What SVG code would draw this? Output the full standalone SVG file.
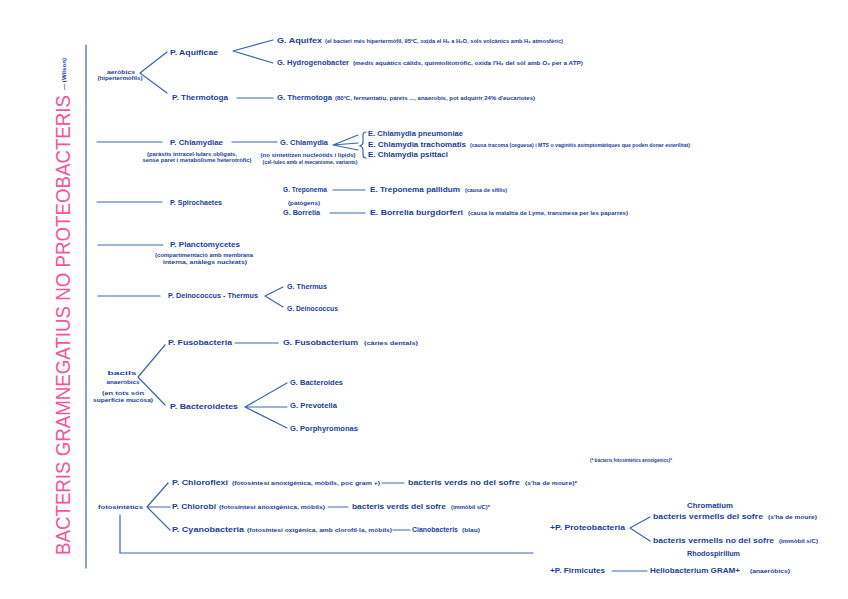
<svg xmlns="http://www.w3.org/2000/svg" width="848" height="599" viewBox="0 0 848 599">
<style>
.t{font-family:"Liberation Sans",Arial,sans-serif;font-weight:bold;fill:#1c3d9c;font-size:7.5px}
.n{font-family:"Liberation Sans",Arial,sans-serif;font-weight:bold;fill:#1c3d9c;font-size:5px}
.c{fill:none;stroke:#3a66ae;stroke-width:1.2;stroke-linecap:round}
.title{font-family:"Liberation Sans",Arial,sans-serif;fill:#f2559a;font-size:21px}
</style>
<rect width="848" height="599" fill="#ffffff"/>
<g id="title">
<text class="title" transform="translate(70,325) rotate(-90)" text-anchor="middle" textLength="460" lengthAdjust="spacingAndGlyphs">BACTERIS GRAMNEGATIUS NO PROTEOBACTERIS</text>
<text class="n" transform="translate(66,90) rotate(-90)" textLength="32" lengthAdjust="spacingAndGlyphs" style="fill:#1c3d9c">— (Wilson)</text>
</g>
<g id="connectors">
<path class="c" d="M86,45 L86,568"/>
<path class="c" d="M140,73 L167,52 M140,73 L167,93"/>
<path class="c" d="M233,51 L273,40 M233,51 L273,63"/>
<path class="c" d="M237,98 L273,98"/>
<path class="c" d="M97,142 L162,142 M232,142 L277,142"/>
<path class="c" d="M333,145 L358,135 M333,145 L358,143 M333,145 L358,150"/>
<path class="c" d="M366,132 q-3,0 -3,3 v7 q0,3 -3,4 q3,1 3,4 v5 q0,3 3,3"/>
<path class="c" d="M97,202 L162,202"/>
<path class="c" d="M333,190 L365,190 M330,213 L365,213"/>
<path class="c" d="M98,245 L163,245"/>
<path class="c" d="M98,296 L160,296"/>
<path class="c" d="M265,296 L283,287 M265,296 L283,307"/>
<path class="c" d="M138,377 L165,345 M138,377 L165,405"/>
<path class="c" d="M235,343 L278,343"/>
<path class="c" d="M245,407 L287,383 M245,407 L287,407 M245,407 L287,428"/>
<path class="c" d="M147,507 L168,483 M147,507 L170,507 M147,507 L170,530"/>
<path class="c" d="M382,483 L404,483 M328,507 L348,507 M393,530 L410,530"/>
<path class="c" d="M120,515 L120,553 L533,553"/>
<path class="c" d="M630,528 L650,517 M630,528 L650,541"/>
<path class="c" d="M612,571 L647,571"/>
</g>
<g id="aerobics">
<text class="t" x="121" y="74" text-anchor="middle" textLength="28" lengthAdjust="spacingAndGlyphs" style="font-size:6px">aeròbics</text>
<text class="n" x="120" y="80" text-anchor="middle" textLength="45" lengthAdjust="spacingAndGlyphs">(hipertermòfils)</text>
</g>
<g id="aquificae"><text class="t" x="170" y="55" textLength="48" lengthAdjust="spacingAndGlyphs">P. Aquificae</text></g>
<g id="aquifex">
<text class="t" x="277" y="43" textLength="45" lengthAdjust="spacingAndGlyphs">G. Aquifex</text>
<text class="n" x="325" y="43" textLength="238" lengthAdjust="spacingAndGlyphs">(el bacteri més hipertermòfil, 95ºC, oxida el H₂ a H₂O, sols volcànics amb H₂ atmosfèric)</text>
</g>
<g id="hydrogenobacter">
<text class="t" x="277" y="65" textLength="72" lengthAdjust="spacingAndGlyphs">G. Hydrogenobacter</text>
<text class="n" x="353" y="65" textLength="230" lengthAdjust="spacingAndGlyphs">(medis aquàtics càlids, quimiolitotròfic, oxida l'H₂ del sòl amb O₂ per a ATP)</text>
</g>
<g id="thermotoga-p"><text class="t" x="172" y="100" textLength="56" lengthAdjust="spacingAndGlyphs">P. Thermotoga</text></g>
<g id="thermotoga-g">
<text class="t" x="277" y="100" textLength="55" lengthAdjust="spacingAndGlyphs">G. Thermotoga</text>
<text class="n" x="335" y="100" textLength="200" lengthAdjust="spacingAndGlyphs">(80ºC, fermentatiu, parets ..., anaerobis, pot adquirir 24% d'eucariotes)</text>
</g>
<g id="chlamydiae">
<text class="t" x="170" y="145" textLength="53" lengthAdjust="spacingAndGlyphs">P. Chlamydiae</text>
<text class="n" x="192" y="156" text-anchor="middle" textLength="90" lengthAdjust="spacingAndGlyphs">(paràsits intracel·lulars obligats,</text>
<text class="n" x="197" y="162" text-anchor="middle" textLength="109" lengthAdjust="spacingAndGlyphs">sense paret i metabolisme heterotròfic)</text>
</g>
<g id="chlamydia">
<text class="t" x="280" y="145" textLength="48" lengthAdjust="spacingAndGlyphs">G. Chlamydia</text>
<text class="n" x="308" y="157" text-anchor="middle" textLength="95" lengthAdjust="spacingAndGlyphs">(no sintetitzen nucleòtids i lípids)</text>
<text class="n" x="310" y="164" text-anchor="middle" textLength="95" lengthAdjust="spacingAndGlyphs">(cèl·lules amb el mecanisme, variants)</text>
</g>
<g id="pneumoniae"><text class="t" x="368" y="136" textLength="95" lengthAdjust="spacingAndGlyphs">E. Chlamydia pneumoniae</text></g>
<g id="trachomatis">
<text class="t" x="368" y="147" textLength="98" lengthAdjust="spacingAndGlyphs">E. Chlamydia trachomatis</text>
<text class="n" x="470" y="147" textLength="220" lengthAdjust="spacingAndGlyphs">(causa tracoma (ceguesa) i MTS o vaginitis asimptomàtiques que poden donar esterilitat)</text>
</g>
<g id="psittaci"><text class="t" x="368" y="157" textLength="80" lengthAdjust="spacingAndGlyphs">E. Chlamydia psittaci</text></g>
<g id="spirochaetes"><text class="t" x="170" y="205" textLength="52" lengthAdjust="spacingAndGlyphs">P. Spirochaetes</text></g>
<g id="treponema">
<text class="t" x="283" y="192" textLength="44" lengthAdjust="spacingAndGlyphs">G. Treponema</text>
<text class="n" x="304" y="205" text-anchor="middle" textLength="32" lengthAdjust="spacingAndGlyphs">(patògens)</text>
</g>
<g id="borrelia"><text class="t" x="283" y="215" textLength="37" lengthAdjust="spacingAndGlyphs">G. Borrelia</text></g>
<g id="pallidum">
<text class="t" x="370" y="192" textLength="90" lengthAdjust="spacingAndGlyphs">E. Treponema pallidum</text>
<text class="n" x="465" y="192" textLength="42" lengthAdjust="spacingAndGlyphs">(causa de sífilis)</text>
</g>
<g id="burgdorferi">
<text class="t" x="370" y="215" textLength="93" lengthAdjust="spacingAndGlyphs">E. Borrelia burgdorferi</text>
<text class="n" x="468" y="215" textLength="160" lengthAdjust="spacingAndGlyphs">(causa la malaltia de Lyme, transmesa per les paparres)</text>
</g>
<g id="planctomycetes">
<text class="t" x="170" y="247" textLength="70" lengthAdjust="spacingAndGlyphs">P. Planctomycetes</text>
<text class="n" x="204" y="257" text-anchor="middle" textLength="98" lengthAdjust="spacingAndGlyphs">(compartimentació amb membrana</text>
<text class="n" x="205" y="264" text-anchor="middle" textLength="84" lengthAdjust="spacingAndGlyphs">interna, anàlegs nucleats)</text>
</g>
<g id="deinococcus-thermus"><text class="t" x="168" y="298" textLength="90" lengthAdjust="spacingAndGlyphs">P. Deinococcus - Thermus</text></g>
<g id="thermus"><text class="t" x="287" y="289" textLength="40" lengthAdjust="spacingAndGlyphs">G. Thermus</text></g>
<g id="deinococcus"><text class="t" x="287" y="311" textLength="51" lengthAdjust="spacingAndGlyphs">G. Deinococcus</text></g>
<g id="bacils">
<text class="t" x="122" y="375" text-anchor="middle" textLength="29" lengthAdjust="spacingAndGlyphs" style="font-size:6px">bacils</text>
<text class="t" x="123" y="384" text-anchor="middle" textLength="33" lengthAdjust="spacingAndGlyphs" style="font-size:6px">anaeròbics</text>
<text class="n" x="123" y="395" text-anchor="middle" textLength="42" lengthAdjust="spacingAndGlyphs">(en tots són</text>
<text class="n" x="123" y="402" text-anchor="middle" textLength="60" lengthAdjust="spacingAndGlyphs">superfície mucosa)</text>
</g>
<g id="fusobacteria"><text class="t" x="168" y="345" textLength="64" lengthAdjust="spacingAndGlyphs">P. Fusobacteria</text></g>
<g id="fusobacterium">
<text class="t" x="283" y="345" textLength="75" lengthAdjust="spacingAndGlyphs">G. Fusobacterium</text>
<text class="n" x="364" y="345" textLength="54" lengthAdjust="spacingAndGlyphs">(càries dentals)</text>
</g>
<g id="bacteroidetes"><text class="t" x="170" y="409" textLength="68" lengthAdjust="spacingAndGlyphs">P. Bacteroidetes</text></g>
<g id="bacteroides"><text class="t" x="290" y="385" textLength="53" lengthAdjust="spacingAndGlyphs">G. Bacteroides</text></g>
<g id="prevotella"><text class="t" x="290" y="408" textLength="47" lengthAdjust="spacingAndGlyphs">G. Prevotella</text></g>
<g id="porphyromonas"><text class="t" x="290" y="431" textLength="68" lengthAdjust="spacingAndGlyphs">G. Porphyromonas</text></g>
<g id="fotosintetics"><text class="t" x="98" y="509" textLength="45" lengthAdjust="spacingAndGlyphs" style="font-size:6px">fotosintètics</text></g>
<g id="chloroflexi">
<text class="t" x="172" y="485" textLength="56" lengthAdjust="spacingAndGlyphs">P. Chloroflexi</text>
<text class="n" x="232" y="485" textLength="148" lengthAdjust="spacingAndGlyphs">(fotosíntesi anoxigènica, mòbils, poc gram +)</text>
</g>
<g id="verds-no-sofre">
<text class="t" x="408" y="485" textLength="112" lengthAdjust="spacingAndGlyphs">bacteris verds no del sofre</text>
<text class="n" x="525" y="485" textLength="52" lengthAdjust="spacingAndGlyphs">(s'ha de moure)*</text>
</g>
<g id="chlorobi">
<text class="t" x="172" y="509" textLength="44" lengthAdjust="spacingAndGlyphs">P. Chlorobi</text>
<text class="n" x="219" y="509" textLength="106" lengthAdjust="spacingAndGlyphs">(fotosíntesi anoxigènica, mòbils)</text>
</g>
<g id="verds-sofre">
<text class="t" x="352" y="509" textLength="94" lengthAdjust="spacingAndGlyphs">bacteris verds del sofre</text>
<text class="n" x="451" y="509" textLength="39" lengthAdjust="spacingAndGlyphs">(immòbil s/C)*</text>
</g>
<g id="cyanobacteria">
<text class="t" x="172" y="532" textLength="72" lengthAdjust="spacingAndGlyphs">P. Cyanobacteria</text>
<text class="n" x="247" y="532" textLength="145" lengthAdjust="spacingAndGlyphs">(fotosíntesi oxigènica, amb clorofil·la, mòbils)</text>
</g>
<g id="cianobacteris">
<text class="t" x="412" y="532" textLength="46" lengthAdjust="spacingAndGlyphs">Cianobacteris</text>
<text class="n" x="462" y="532" textLength="18" lengthAdjust="spacingAndGlyphs">(blau)</text>
</g>
<g id="nota"><text class="n" x="590" y="462" textLength="82" lengthAdjust="spacingAndGlyphs">(* bacteris fotosintètics anoxigènics)*</text></g>
<g id="proteobacteria"><text class="t" x="550" y="530" textLength="75" lengthAdjust="spacingAndGlyphs">+P. Proteobacteria</text></g>
<g id="vermells-sofre">
<text class="t" x="687" y="508" textLength="46" lengthAdjust="spacingAndGlyphs" style="font-size:6.5px">Chromatium</text>
<text class="t" x="653" y="519" textLength="110" lengthAdjust="spacingAndGlyphs">bacteris vermells del sofre</text>
<text class="n" x="768" y="519" textLength="49" lengthAdjust="spacingAndGlyphs">(s'ha de moure)</text>
</g>
<g id="vermells-no-sofre">
<text class="t" x="653" y="543" textLength="121" lengthAdjust="spacingAndGlyphs">bacteris vermells no del sofre</text>
<text class="n" x="779" y="543" textLength="39" lengthAdjust="spacingAndGlyphs">(immòbil s/C)</text>
<text class="t" x="687" y="556" textLength="53" lengthAdjust="spacingAndGlyphs" style="font-size:6.5px">Rhodospirillum</text>
</g>
<g id="firmicutes"><text class="t" x="550" y="573" textLength="55" lengthAdjust="spacingAndGlyphs">+P. Firmicutes</text></g>
<g id="heliobacterium">
<text class="t" x="650" y="573" textLength="90" lengthAdjust="spacingAndGlyphs">Heliobacterium GRAM+</text>
<text class="n" x="750" y="573" textLength="40" lengthAdjust="spacingAndGlyphs">(anaeròbics)</text>
</g>
</svg>
